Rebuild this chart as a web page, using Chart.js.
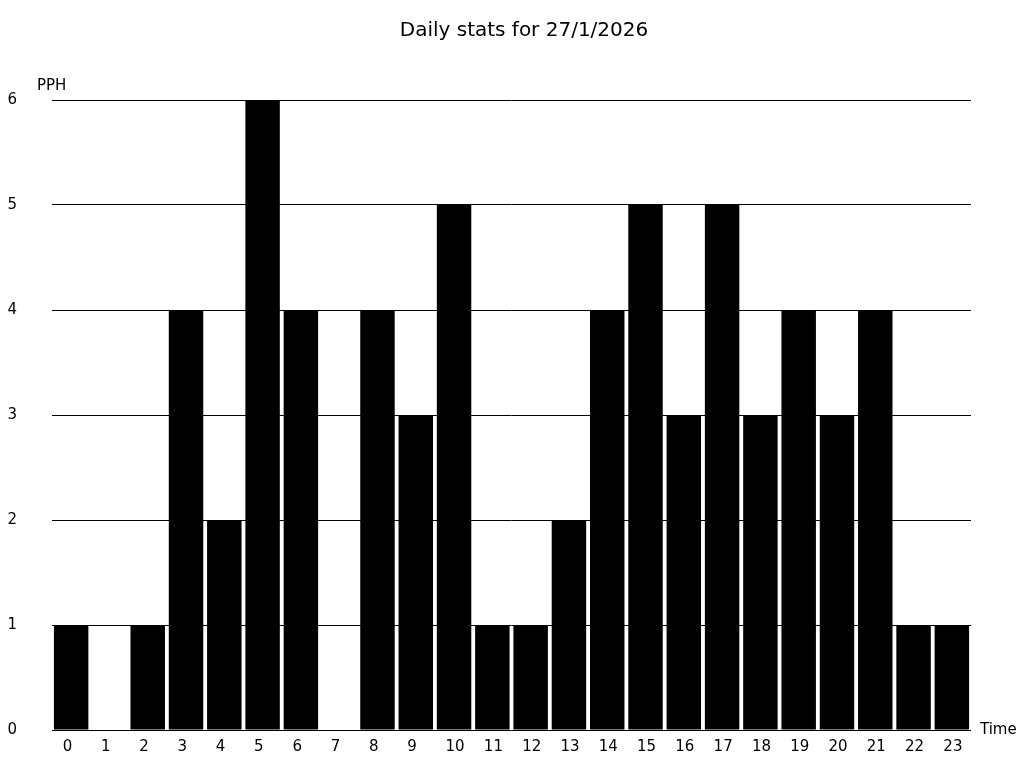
<!DOCTYPE html>
<html>
<head>
<meta charset="utf-8">
<script src="https://cdn.jsdelivr.net/npm/chart.js@4/dist/chart.umd.min.js"></script>
<style>
  html, body { margin: 0; padding: 0; background: #fff; }
  #wrap { width: 1024px; height: 768px; }
</style>
</head>
<body>
<div id="wrap"><canvas id="chart"></canvas></div>
<script>
const hours = ["0","1","2","3","4","5","6","7","8","9","10","11","12","13","14","15","16","17","18","19","20","21","22","23"];
const pph = [1, 0, 1, 4, 2, 6, 4, 0, 4, 3, 5, 1, 1, 2, 4, 5, 3, 5, 3, 4, 3, 4, 1, 1];
const titleText = "Daily stats for 27/1/2026";
const yLabel = "PPH";
const xLabel = "Time";

const FONT = "'DejaVu Sans', sans-serif";

// title and axis captions are drawn by hand: the title is centred on the page,
// the captions sit at the ends of the axes
const captions = {
  id: "captions",
  afterDraw(chart) {
    const { ctx, chartArea, width } = chart;
    ctx.save();
    ctx.fillStyle = "#000";
    ctx.font = "20px " + FONT;
    ctx.textAlign = "center";
    ctx.textBaseline = "middle";
    ctx.fillText(titleText, width / 2 + 12, 31);
    ctx.font = "15px " + FONT;
    ctx.textAlign = "left";
    ctx.textBaseline = "alphabetic";
    ctx.fillText(yLabel, chartArea.left - 15, chartArea.top - 10);
    ctx.textBaseline = "middle";
    ctx.fillText(xLabel, chartArea.right + 9, chartArea.bottom);
    ctx.restore();
  }
};

const ctx = document.getElementById("chart").getContext("2d");
new Chart(ctx, {
  type: "bar",
  data: {
    labels: hours,
    datasets: [{
      label: "PPH",
      data: pph,
      backgroundColor: "#000",
      barPercentage: 0.9,
      categoryPercentage: 1.0
    }]
  },
  options: {
    responsive: true,
    maintainAspectRatio: false,
    animation: false,
    layout: { padding: { left: 0, right: 53, top: 100, bottom: 0 } },
    plugins: {
      legend: { display: false },
      tooltip: { enabled: false },
      title: { display: false }
    },
    scales: {
      x: {
        grid: { display: false, drawTicks: false },
        border: { display: false },
        ticks: {
          color: "#000",
          font: { family: FONT, size: 15 },
          padding: 8,
          maxRotation: 0,
          autoSkip: false,
          align: "start",
          labelOffset: -8.5
        },
        afterFit(scale) {
          scale.height = 38;
          scale.paddingLeft = 0;
          scale.paddingRight = 0;
        }
      },
      y: {
        min: 0,
        max: 6,
        grid: { color: "#000", lineWidth: 1, drawTicks: false },
        border: { display: false },
        ticks: { stepSize: 1, color: "#000", font: { family: FONT, size: 15 }, padding: 35 },
        afterFit(scale) {
          scale.width = 52;
          scale.paddingTop = 0;
          scale.paddingBottom = 0;
        }
      }
    }
  },
  plugins: [captions]
});
</script>
</body>
</html>
